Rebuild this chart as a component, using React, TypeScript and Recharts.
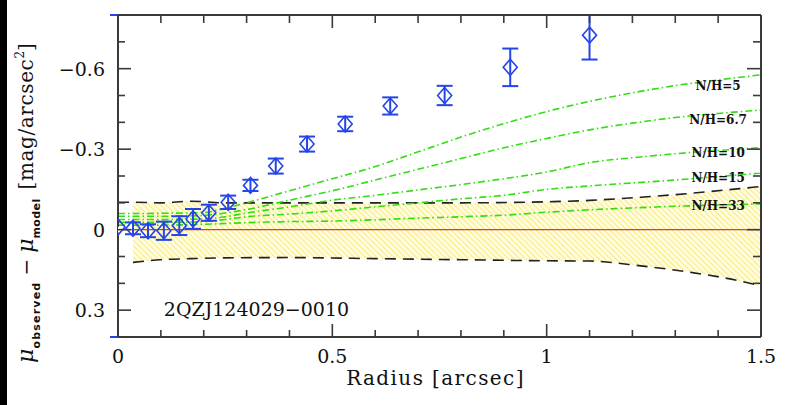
import React from "react";
import {
  ComposedChart,
  Area,
  Line,
  Scatter,
  ErrorBar,
  XAxis,
  YAxis,
  ReferenceLine,
  ReferenceDot,
} from "recharts";

// ── Data ───────────────────────────────────────────────────────────

// observed minus model surface brightness, with 1-sigma errors [down, up]
const R_OBS = [0, 0.035, 0.07, 0.107, 0.143, 0.175, 0.212, 0.257, 0.309, 0.368, 0.441, 0.53, 0.635, 0.762, 0.915, 1.1];
const MU_OBS = [-0.01, -0.005, 0.004, 0.004, -0.015, -0.04, -0.063, -0.102, -0.165, -0.237, -0.319, -0.394, -0.461, -0.5, -0.605, -0.725];
const MU_ERR = [
  [0.79, 0.41], [0.022, 0.022], [0.024, 0.024], [0.034, 0.034], [0.035, 0.035], [0.037, 0.037],
  [0.03, 0.03], [0.025, 0.025], [0.021, 0.021], [0.028, 0.028], [0.028, 0.028], [0.027, 0.027],
  [0.032, 0.032], [0.036, 0.036], [0.07, 0.07], [0.075, 0.091],
];

// host-to-nucleus models
const MODEL_X = [0, 0.1, 0.2, 0.25, 0.3, 0.4, 0.5, 0.6, 0.7, 0.8, 0.9, 1.0, 1.1, 1.2, 1.3, 1.4, 1.5];
const NH_5 = [-0.06, -0.061, -0.064, -0.08, -0.1, -0.145, -0.19, -0.235, -0.29, -0.345, -0.395, -0.44, -0.478, -0.51, -0.537, -0.558, -0.577];
const NH_6_7 = [-0.05, -0.05, -0.053, -0.062, -0.075, -0.11, -0.145, -0.185, -0.225, -0.265, -0.305, -0.34, -0.372, -0.397, -0.418, -0.433, -0.446];
const NH_10 = [-0.038, -0.038, -0.04, -0.048, -0.062, -0.085, -0.11, -0.128, -0.148, -0.168, -0.19, -0.215, -0.25, -0.268, -0.283, -0.295, -0.306];
const NH_15 = [-0.027, -0.027, -0.03, -0.038, -0.048, -0.058, -0.07, -0.085, -0.1, -0.115, -0.128, -0.15, -0.163, -0.174, -0.185, -0.198, -0.211];
const NH_33 = [-0.017, -0.017, -0.02, -0.023, -0.026, -0.03, -0.032, -0.037, -0.043, -0.048, -0.054, -0.065, -0.074, -0.081, -0.087, -0.092, -0.096];

const MODELS = [
  { name: "N/H=5", y: NH_5, lx: 1.4, ly: -0.536 },
  { name: "N/H=6.7", y: NH_6_7, lx: 1.4, ly: -0.409 },
  { name: "N/H=10", y: NH_10, lx: 1.4, ly: -0.286 },
  { name: "N/H=15", y: NH_15, lx: 1.4, ly: -0.194 },
  { name: "N/H=33", y: NH_33, lx: 1.4, ly: -0.09 },
];

// PSF uncertainty band
const BAND_X = [0.035, 0.1, 0.17, 0.25, 0.4, 0.6, 0.8, 1.0, 1.1, 1.22, 1.34, 1.45, 1.5];
const BAND_UPPER = [-0.102, -0.1, -0.106, -0.1, -0.1, -0.1, -0.1, -0.104, -0.109, -0.121, -0.136, -0.153, -0.161];
const BAND_LOWER = [0.122, 0.112, 0.108, 0.105, 0.104, 0.108, 0.112, 0.116, 0.117, 0.135, 0.16, 0.191, 0.21];

const X_TICKS = [0, 0.1, 0.2, 0.3, 0.4, 0.5, 0.6, 0.7, 0.8, 0.9, 1, 1.1, 1.2, 1.3, 1.4, 1.5];
const Y_TICKS = [-0.8, -0.7, -0.6, -0.5, -0.4, -0.3, -0.2, -0.1, 0, 0.1, 0.2, 0.3, 0.4];

const OBJECT_NAME = "2QZJ124029\u22120010";

// ── Styling ────────────────────────────────────────────────────────

const W = 787;
const H = 405;
const FRAME = "#3a3a3a";
const BLUE = "#2645e8";
const GREEN = "#2fe010";
const SERIF = "'DejaVu Serif', serif";

const obsData = R_OBS.map((x, i) => ({ x, y: MU_OBS[i], err: MU_ERR[i] }));
const modelData = MODELS.map((m) => MODEL_X.map((x, i) => ({ x, y: m.y[i] })));
const bandData = BAND_X.map((x, i) => ({ x, range: [BAND_LOWER[i], BAND_UPPER[i]] }));
const upperData = [{ x: 0, y: BAND_UPPER[0] }, ...BAND_X.map((x, i) => ({ x, y: BAND_UPPER[i] }))];
const lowerData = BAND_X.map((x, i) => ({ x, y: BAND_LOWER[i] }));
const frameData = [{ x: 0, y: 0 }];

const isMult = (v: number, step: number) => Math.abs(v / step - Math.round(v / step)) < 1e-6;
const fmt = (v: number) => (Math.abs(v) < 1e-9 ? "0" : v < 0 ? "\u2212" + Math.abs(v).toFixed(1) : String(v));

// pgplot-style ticks pointing into the frame
function BottomTick(props: any) {
  const { x, y, payload } = props;
  const major = isMult(payload.value, 0.5);
  return (
    <g>
      <path d={`M${x},${y}V${y - (major ? 13 : 7)}`} stroke={FRAME} strokeWidth={1.6} fill="none" />
      {major && (
        <text x={x} y={y + 26} textAnchor="middle" fontFamily={SERIF} fontSize={19} fill="#111">
          {String(payload.value)}
        </text>
      )}
    </g>
  );
}

function TopTick(props: any) {
  const { x, y, payload } = props;
  const major = isMult(payload.value, 0.5);
  return <path d={`M${x},${y}V${y + (major ? 13 : 8)}`} stroke={FRAME} strokeWidth={1.6} fill="none" />;
}

function LeftTick(props: any) {
  const { x, y, payload } = props;
  const major = isMult(payload.value, 0.3);
  return (
    <g>
      <path d={`M${x},${y}H${x + (major ? 13 : 7)}`} stroke={FRAME} strokeWidth={1.6} fill="none" />
      {major && (
        <text x={x - 13} y={y + 7} textAnchor="end" fontFamily={SERIF} fontSize={19} fill="#111">
          {fmt(payload.value)}
        </text>
      )}
    </g>
  );
}

function RightTick(props: any) {
  const { x, y, payload } = props;
  const major = isMult(payload.value, 0.3);
  return <path d={`M${x},${y}H${x - (major ? 14 : 8)}`} stroke={FRAME} strokeWidth={1.6} fill="none" />;
}

function XLabel({ viewBox }: any) {
  const cx = viewBox.x + viewBox.width / 2 - 4;
  return (
    <text x={cx} y={viewBox.y + 48} textAnchor="middle" fontFamily={SERIF} fontSize={20} letterSpacing={1.4} fill="#111">
      Radius [arcsec]
    </text>
  );
}

function YLabel({ viewBox }: any) {
  const cy = viewBox.y + viewBox.height / 2 + 27;
  const sub = { fontFamily: "'DejaVu Sans', sans-serif", fontWeight: "bold" as const, fontSize: 11 };
  return (
    <text transform={`translate(33,${cy}) rotate(-90)`} textAnchor="middle" fontFamily={SERIF} fontSize={20} fill="#111">
      <tspan fontStyle="italic" fontSize={22}>μ</tspan>
      <tspan {...sub} dy={7} letterSpacing={1.2}>observed</tspan>
      <tspan dy={-7} dx={6}>{"\u2212"}</tspan>
      <tspan fontStyle="italic" fontSize={22} dx={6}>μ</tspan>
      <tspan {...sub} dy={7} letterSpacing={0.4}>model</tspan>
      <tspan dy={-7} dx={9} letterSpacing={0.6}>[mag/arcsec</tspan>
      <tspan fontSize={12} dy={-9}>2</tspan>
      <tspan dy={9}>]</tspan>
    </text>
  );
}

function Diamond({ cx, cy }: any) {
  if (cx == null || cy == null) return null;
  return (
    <path
      d={`M${cx},${cy - 8} L${cx + 7},${cy} L${cx},${cy + 8} L${cx - 7},${cy} Z`}
      fill="none"
      stroke={BLUE}
      strokeWidth={1.6}
    />
  );
}

export default function App() {
  return (
    <div style={{ position: "absolute", left: 0, top: 0, width: W, height: H, background: "#fff" }}>
      <div style={{ position: "absolute", left: 0, top: 0, width: 7, height: H, background: "#000" }} />
      <ComposedChart width={W} height={H} data={obsData} margin={{ top: 14, right: 25, bottom: 0, left: 0 }}>
        <defs>
          <pattern id="hatch" patternUnits="userSpaceOnUse" width={4} height={4} patternTransform="rotate(-45)">
            <rect width={4} height={4} fill="#fffce0" />
            <line x1={0} y1={0} x2={0} y2={4} stroke="#f9eb7c" strokeWidth={2} />
          </pattern>
        </defs>
        <XAxis
          dataKey="x"
          type="number"
          domain={[0, 1.5]}
          ticks={X_TICKS}
          interval={0}
          allowDataOverflow
          height={68}
          tickSize={0}
          tickMargin={0}
          tickLine={false}
          axisLine={{ stroke: FRAME, strokeWidth: 2 }}
          tick={(p: any) => <BottomTick {...p} />}
          label={{ content: (p: any) => <XLabel {...p} /> }}
        />
        <XAxis
          xAxisId="top"
          orientation="top"
          dataKey="x"
          type="number"
          domain={[0, 1.5]}
          ticks={X_TICKS}
          interval={0}
          allowDataOverflow
          height={1}
          tickSize={0}
          tickMargin={0}
          tickLine={false}
          axisLine={{ stroke: FRAME, strokeWidth: 2 }}
          tick={(p: any) => <TopTick {...p} />}
        />
        <YAxis
          type="number"
          domain={[-0.8, 0.4]}
          reversed
          ticks={Y_TICKS}
          interval={0}
          allowDataOverflow
          width={118}
          tickSize={0}
          tickMargin={0}
          tickLine={false}
          axisLine={{ stroke: FRAME, strokeWidth: 2 }}
          tick={(p: any) => <LeftTick {...p} />}
          label={{ content: (p: any) => <YLabel {...p} /> }}
        />
        <YAxis
          yAxisId="right"
          orientation="right"
          type="number"
          domain={[-0.8, 0.4]}
          reversed
          ticks={Y_TICKS}
          interval={0}
          allowDataOverflow
          width={1}
          tickSize={0}
          tickMargin={0}
          tickLine={false}
          axisLine={{ stroke: FRAME, strokeWidth: 2 }}
          tick={(p: any) => <RightTick {...p} />}
        />

        {/* invisible series that keeps the top and right frame axes alive */}
        <Line xAxisId="top" yAxisId="right" data={frameData} dataKey="y" stroke="none" dot={false} isAnimationActive={false} />

        <Area
          data={bandData}
          dataKey="range"
          type="monotone"
          stroke="none"
          fill="url(#hatch)"
          fillOpacity={1}
          isAnimationActive={false}
        />
        <Line data={upperData} dataKey="y" type="monotone" stroke="#222" strokeWidth={1.6} strokeDasharray="11 7" dot={false} isAnimationActive={false} />
        <Line data={lowerData} dataKey="y" type="monotone" stroke="#222" strokeWidth={1.6} strokeDasharray="11 7" dot={false} isAnimationActive={false} />
        <ReferenceLine y={0} stroke="#e2401c" strokeWidth={1.3} />
        {MODELS.map((m, i) => (
          <Line
            key={m.name}
            data={modelData[i]}
            dataKey="y"
            type="monotone"
            stroke={GREEN}
            strokeWidth={1.6}
            strokeDasharray="7 3 1.5 3"
            dot={false}
            isAnimationActive={false}
          />
        ))}
        <Scatter data={obsData} dataKey="y" shape={<Diamond />} isAnimationActive={false}>
          <ErrorBar dataKey="err" direction="y" width={8} stroke={BLUE} strokeWidth={2} />
        </Scatter>

        {MODELS.map((m) => (
          <ReferenceDot
            key={m.name + "-label"}
            x={m.lx}
            y={m.ly}
            r={0}
            fill="none"
            stroke="none"
            label={{
              content: ({ viewBox }: any) => (
                <text x={viewBox.x + viewBox.width / 2} y={viewBox.y + viewBox.height / 2 + 4.5} textAnchor="middle" fontFamily={SERIF} fontWeight="bold" fontSize={12} fill="#111">
                  {m.name}
                </text>
              ),
            }}
          />
        ))}
        <ReferenceDot
          x={0.323}
          y={0.295}
          r={0}
          fill="none"
          stroke="none"
          label={{
            content: ({ viewBox }: any) => (
              <text x={viewBox.x + viewBox.width / 2} y={viewBox.y + viewBox.height / 2 + 7} textAnchor="middle" fontFamily={SERIF} fontSize={19} fill="#111">
                {OBJECT_NAME}
              </text>
            ),
          }}
        />
      </ComposedChart>
    </div>
  );
}
